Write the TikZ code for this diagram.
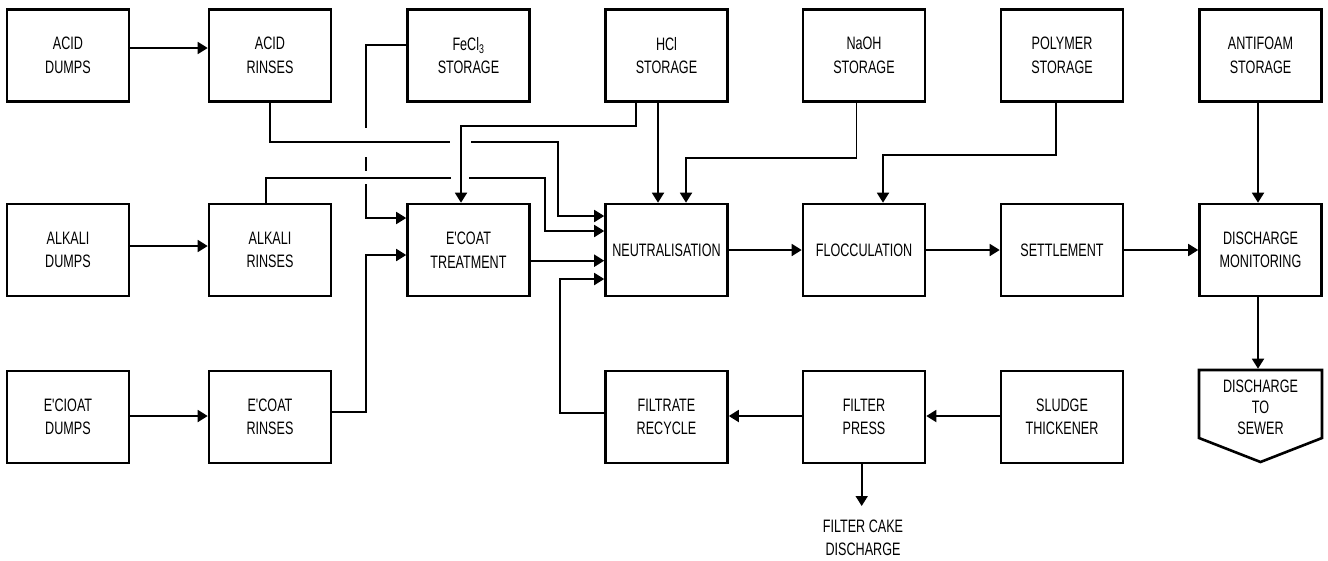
\documentclass[tikz,border=0pt]{standalone}
\usepackage{fontspec}
\newfontfamily\dfont[FakeStretch=0.7]{Liberation Sans}
\usetikzlibrary{arrows.meta}
\begin{document}
\begin{tikzpicture}[x=1pt,y=-1pt,
  txt/.style={align=center,inner sep=0pt,font=\dfont\fontsize{18}{23.5}\selectfont},
  box/.style={txt,draw,line width=2.6pt,minimum width=122pt,minimum height=92pt},
  conn/.style={line width=1.8pt},
  arr/.style={conn,-{Triangle[length=10pt,width=12pt]}}]
\useasboundingbox (0,0) rectangle (1328,560);
% row 1
\node[box] (adump)  at (68,55.5)    {ACID\\DUMPS};
\node[box] (arinse) at (270,55.5)   {ACID\\RINSES};
\node[box] (fecl)   at (468.5,55.5) {FeCl\textsubscript{3}\\STORAGE};
\node[box] (hcl)    at (666.5,55.5) {HCl\\STORAGE};
\node[box] (naoh)   at (864,55.5)   {NaOH\\STORAGE};
\node[box] (poly)   at (1062,55.5)  {POLYMER\\STORAGE};
\node[box] (anti)   at (1260.5,55.5){ANTIFOAM\\STORAGE};
% row 2
\node[box] (kdump)  at (68,250)     {ALKALI\\DUMPS};
\node[box] (krinse) at (270,250)    {ALKALI\\RINSES};
\node[box] (ecoat)  at (468.5,250)  {E'COAT\\TREATMENT};
\node[box] (neut)   at (666.5,250)  {NEUTRALISATION};
\node[box] (floc)   at (864,250)    {FLOCCULATION};
\node[box] (settle) at (1062,250)   {SETTLEMENT};
\node[box] (dmon)   at (1260.5,250) {DISCHARGE\\MONITORING};
% row 3
\node[box] (edump)  at (68,417)     {E'CIOAT\\DUMPS};
\node[box] (erinse) at (270,417)    {E'COAT\\RINSES};
\node[box] (filtrate) at (666.5,417) {FILTRATE\\RECYCLE};
\node[box] (fpress) at (864,417)    {FILTER\\PRESS};
\node[box] (sludge) at (1062,417)   {SLUDGE\\THICKENER};
% sewer
\draw[line width=2.6pt] (1199,370) -- (1322,370) -- (1322,438) -- (1260.5,462) -- (1199,438) -- cycle;
\node[txt,font=\dfont\fontsize{18}{21}\selectfont] (sewer) at (1260.5,407) {DISCHARGE\\TO\\SEWER};
\coordinate (sewertop) at (1258,368.7);
\node[txt] (cake) at (863,538) {FILTER CAKE\\DISCHARGE};
\coordinate (cakein) at (861.7,506);
% dumps -> rinses
\draw[arr] (adump.east |- 0,48) -- (arinse.west |- 0,48);
\draw[arr] (kdump.east |- 0,246) -- (krinse.west |- 0,246);
\draw[arr] (edump.east |- 0,416) -- (erinse.west |- 0,416);
% acid rinses -> neutralisation (with gap)
\draw[conn] (arinse.south) |- (450,142);
\draw[arr] (471,142) -| (557.7,216) -- (neut.west |- 0,216);
% FeCl3 -> E'coat treatment (with gaps)
\draw[conn] (fecl.west |- 0,45) -| (365.7,128);
\draw[conn] (365.7,157) -- (365.7,171);
\draw[arr] (365.7,184) |- (ecoat.west |- 0,218);
% HCl
\draw[arr] (hcl.south -| 636,0) |- (461,126) -- (ecoat.north -| 461,0);
\draw[arr] (hcl.south -| 658,0) -- (neut.north -| 658,0);
% NaOH
\draw[arr] (naoh.south -| 856.5,0) |- (686,158) -- (neut.north -| 686,0);
% Polymer
\draw[arr] (poly.south -| 1055.7,0) |- (883,155) -- (floc.north -| 883,0);
% Antifoam
\draw[arr] (anti.south -| 1258,0) -- (dmon.north -| 1258,0);
% alkali rinses -> neutralisation (with gap)
\draw[conn] (krinse.north -| 265.7,0) |- (451,178);
\draw[arr] (469,178) -| (545,231) -- (neut.west |- 0,231);
% E'coat rinses -> E'coat treatment
\draw[arr] (erinse.east |- 0,412) -| (365.7,255) -- (ecoat.west |- 0,255);
% E'coat treatment -> neutralisation
\draw[arr] (ecoat.east |- 0,260.7) -- (neut.west |- 0,260.7);
% filtrate recycle -> neutralisation
\draw[arr] (filtrate.west |- 0,413) -| (560,279) -- (neut.west |- 0,279);
% main line
\draw[arr] (neut) -- (floc);
\draw[arr] (floc) -- (settle);
\draw[arr] (settle) -- (dmon);
\draw[arr] (dmon.south -| 1258,0) -- (sewertop);
% sludge line
\draw[arr] (sludge.west |- 0,416) -- (fpress.east |- 0,416);
\draw[arr] (fpress.west |- 0,416) -- (filtrate.east |- 0,416);
\draw[arr] (fpress.south -| 861.7,0) -- (cakein);
\end{tikzpicture}
\end{document}
